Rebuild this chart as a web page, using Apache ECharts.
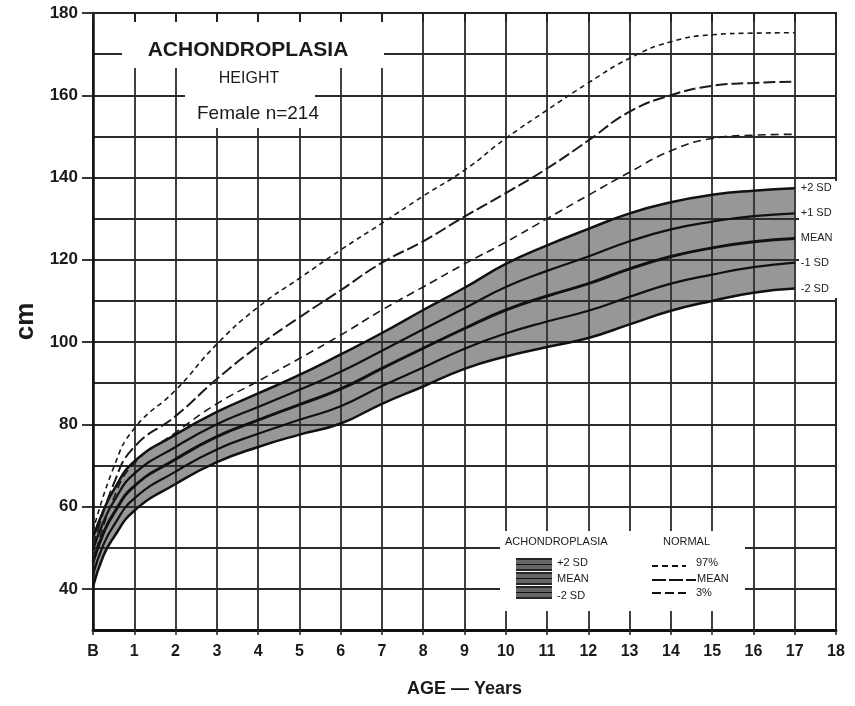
<!DOCTYPE html>
<html>
<head>
<meta charset="utf-8">
<title>Achondroplasia height - female</title>
<script src="https://cdn.jsdelivr.net/npm/echarts@6/dist/echarts.min.js"></script>
<style>
	html, body { margin: 0; padding: 0; background: #fff; }
	#chart { width: 855px; height: 706px; }
</style>
</head>
<body>
<div id="chart"></div>
<script>
// 年龄（岁）
var ages = [0, 0.25, 0.5, 1, 2, 3, 4, 5, 6, 7, 8, 9, 10, 11, 12, 13, 14, 15, 16, 17];
// 软骨发育不全 女性身高 (cm)
var achPlus2 = [52.5, 59, 64, 71, 77.5, 83, 87.5, 92, 97, 102.2, 107.8, 113.2, 119, 123.5, 127.5, 131.3, 134, 135.8, 136.8, 137.4];
var achPlus1 = [49.5, 56.2, 61.2, 68, 74.5, 80, 84.2, 88.4, 92.8, 97.9, 103.1, 108.2, 113.4, 117.3, 120.8, 124.5, 127.4, 129.3, 130.6, 131.3];
var achMean = [46.5, 53.5, 58.3, 65, 71.5, 77, 81, 84.8, 88.6, 93.6, 98.5, 103.3, 107.8, 111.2, 114.2, 117.8, 120.8, 122.9, 124.4, 125.2];
var achMinus1 = [43.5, 50.7, 55.4, 62, 68.5, 73.9, 77.7, 81.1, 84.4, 89.3, 93.8, 98.4, 102.1, 105, 107.6, 111, 114.2, 116.4, 118.2, 119.3];
var achMinus2 = [40.5, 48, 52.5, 59, 65.5, 70.8, 74.5, 77.5, 80.2, 85, 89.2, 93.5, 96.5, 98.8, 101, 104.3, 107.6, 110, 112, 113];
// 正常女性身高 (cm)
var normAges = [0, 0.5, 1, 2, 3, 4, 5, 6, 7, 8, 9, 10, 11, 12, 13, 14, 15, 16, 17];
var norm97 = [54, 69.5, 79, 88.3, 99.5, 108.5, 115.5, 122.4, 128.9, 135.5, 141.8, 149.5, 156.4, 163, 169, 173, 174.7, 175.1, 175.2];
var normMean = [50, 65.5, 74.5, 82, 91, 99, 106, 112.6, 119.3, 124.5, 130.5, 136.2, 142.2, 149, 156, 160, 162.3, 163, 163.3];
var norm3 = [46.5, 62, 70.5, 78, 85, 90.5, 96, 101.7, 107.8, 113.4, 119, 124.3, 130, 135.7, 141.3, 146.5, 149.5, 150.3, 150.5];
// 坐标轴刻度标签
var xTickLabels = ['B', '1', '2', '3', '4', '5', '6', '7', '8', '9', '10', '11', '12', '13', '14', '15', '16', '17', '18'];
var yTickLabels = [40, 60, 80, 100, 120, 140, 160, 180];

var FONT = '"Liberation Sans", Arial, sans-serif';

//把x和y拼成点
function pairs(xs, ys) {
	var out = [];
	for(var i = 0; i < xs.length; i++) {
		out.push([xs[i], ys[i]]);
	}
	return out;
}

//带状填充：身高放在第0维，这样堆叠落在y方向
var bandBase = [];
var bandWidth = [];
for(var i = 0; i < ages.length; i++) {
	bandBase.push([achMinus2[i], ages[i]]);
	bandWidth.push([+(achPlus2[i] - achMinus2[i]).toFixed(2), ages[i]]);
}

function sdLine(name, ys, width) {
	return {
		name: name,
		type: 'line',
		data: pairs(ages, ys),
		smooth: true,
		symbol: 'none',
		silent: true,
		z: 4,
		lineStyle: { color: '#111', width: width },
		endLabel: {
			show: true,
			formatter: '{a}',
			distance: 6,
			color: '#222',
			fontSize: 11,
			fontFamily: FONT
		}
	};
}

function normLine(name, ys, dash, width) {
	return {
		name: name,
		type: 'line',
		data: pairs(normAges, ys),
		smooth: true,
		symbol: 'none',
		silent: true,
		z: 5,
		lineStyle: { color: '#1a1a1a', width: width, type: dash }
	};
}

var myChart = echarts.init(document.getElementById('chart'));

var whiteRect = function(x, y, w, h) {
	return { type: 'rect', shape: { x: x, y: y, width: w, height: h }, style: { fill: '#fff' }, z: 1, silent: true };
};
var txt = function(x, y, s, font, align) {
	return { type: 'text', x: x, y: y, z: 6, silent: true,
		style: { text: s, font: font, fill: '#1a1a1a', align: align || 'left', verticalAlign: 'middle' } };
};
var seg = function(x1, y1, x2, y2, w, dash) {
	return { type: 'line', z: 6, silent: true, shape: { x1: x1, y1: y1, x2: x2, y2: y2 },
		style: { stroke: '#111', lineWidth: w, lineDash: dash || null } };
};

//图例色块
var swatches = [];
[558, 572, 586].forEach(function(y0) {
	swatches.push({ type: 'rect', z: 6, silent: true, shape: { x: 516, y: y0, width: 36, height: 13 }, style: { fill: '#666' } });
	swatches.push(seg(516, y0 + 1, 552, y0 + 1, 1.5));
	swatches.push(seg(516, y0 + 6.5, 552, y0 + 6.5, 1.2));
	swatches.push(seg(516, y0 + 12, 552, y0 + 12, 1.5));
});

var option = {
	animation: false,
	backgroundColor: '#fff',
	grid: {
		left: 93, right: 19, top: 13, bottom: 76,
		show: true, borderColor: '#222', borderWidth: 2
	},
	xAxis: [{
		type: 'value',
		min: 0, max: 18, interval: 1,
		name: 'AGE \u2014 Years',
		nameLocation: 'middle',
		nameGap: 50,
		nameTextStyle: { fontSize: 18, fontWeight: 'bold', color: '#1a1a1a', fontFamily: FONT },
		axisLine: { show: true, lineStyle: { color: '#111', width: 3 } },
		axisTick: { show: true, length: 5, lineStyle: { color: '#222', width: 1.5 } },
		axisLabel: {
			margin: 14,
			fontSize: 16, fontWeight: 'bold', color: '#1a1a1a', fontFamily: FONT,
			formatter: function(v) { return xTickLabels[Math.round(v)]; }
		},
		splitLine: { show: true, lineStyle: { color: '#2b2b2b', width: 1.8 } }
	}, {
		type: 'value',
		position: 'top',
		min: 0, max: 18, interval: 1,
		z: 5,
		axisLine: { show: true, lineStyle: { color: '#222', width: 2 } },
		axisTick: { show: true, inside: true, length: 9, lineStyle: { color: '#222', width: 1.8 } },
		axisLabel: { show: false },
		splitLine: { show: false }
	}],
	yAxis: [{
		type: 'value',
		min: 30, max: 180, interval: 10,
		name: 'cm',
		nameLocation: 'middle',
		nameGap: 54,
		nameRotate: 90,
		nameTextStyle: { fontSize: 26, fontWeight: 'bold', color: '#1a1a1a', fontFamily: FONT },
		axisLine: { show: true, lineStyle: { color: '#111', width: 2.5 } },
		axisTick: { show: true, length: 11, customValues: yTickLabels, lineStyle: { color: '#222', width: 1.8 } },
		axisLabel: {
			margin: 15,
			customValues: yTickLabels,
			fontSize: 17, fontWeight: 'bold', color: '#1a1a1a', fontFamily: FONT
		},
		splitLine: { show: false }
	}, {
		//只画每10cm的网格线
		type: 'value',
		position: 'left',
		min: 30, max: 180, interval: 10,
		axisLine: { show: false },
		axisTick: { show: false },
		axisLabel: { show: false },
		splitLine: { show: true, lineStyle: { color: '#2b2b2b', width: 1.8 } }
	}],
	graphic: [
		//标题框
		whiteRect(122, 22, 262, 46),
		whiteRect(185, 68, 130, 60),
		txt(248, 50, 'ACHONDROPLASIA', 'bold 21px ' + FONT, 'center'),
		txt(249, 79, 'HEIGHT', '16px ' + FONT, 'center'),
		txt(258, 114, 'Female n=214', '19px ' + FONT, 'center'),
		//右侧标签区
		whiteRect(799, 181, 56, 117),
		//图例框
		whiteRect(500, 531, 245, 80),
		txt(505, 542, 'ACHONDROPLASIA', '11px ' + FONT),
		txt(663, 542, 'NORMAL', '11px ' + FONT)
	].concat(swatches).concat([
		txt(557, 563, '+2 SD', '11px ' + FONT),
		txt(557, 579, 'MEAN', '11px ' + FONT),
		txt(557, 596, '-2 SD', '11px ' + FONT),
		seg(652, 566, 686, 566, 2, [6, 4]),
		seg(652, 580, 696, 580, 2.2, [14, 3]),
		seg(652, 593, 686, 593, 2, [9, 4]),
		txt(696, 563, '97%', '11px ' + FONT),
		txt(697, 579, 'MEAN', '11px ' + FONT),
		txt(696, 593, '3%', '11px ' + FONT)
	]),
	series: [{
		name: 'band base',
		type: 'line',
		dimensions: ['h', 'age'],
		encode: { x: 'age', y: 'h' },
		data: bandBase,
		stack: 'band',
		smooth: true,
		symbol: 'none',
		silent: true,
		z: 3,
		lineStyle: { width: 0, opacity: 0 }
	}, {
		name: 'band',
		type: 'line',
		dimensions: ['h', 'age'],
		encode: { x: 'age', y: 'h' },
		data: bandWidth,
		stack: 'band',
		smooth: true,
		symbol: 'none',
		silent: true,
		z: 3,
		lineStyle: { width: 0, opacity: 0 },
		areaStyle: { color: 'rgba(50,50,50,0.72)' }
	},
		sdLine('+2 SD', achPlus2, 2.5),
		sdLine('+1 SD', achPlus1, 2.2),
		sdLine('MEAN', achMean, 3),
		sdLine('-1 SD', achMinus1, 2.2),
		sdLine('-2 SD', achMinus2, 2.5),
		normLine('97%', norm97, [5, 4], 1.6),
		normLine('NORMAL MEAN', normMean, [12, 4], 2),
		normLine('3%', norm3, [8, 5], 1.6)
	]
};

myChart.setOption(option);
</script>
</body>
</html>
